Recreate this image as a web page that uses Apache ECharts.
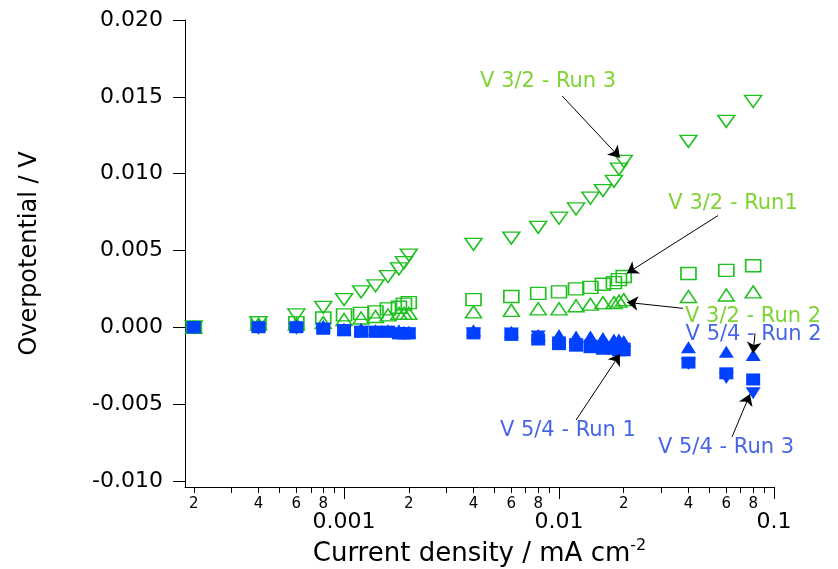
<!DOCTYPE html>
<html>
<head>
<meta charset="utf-8">
<script src="https://cdn.jsdelivr.net/npm/echarts@6/dist/echarts.min.js"></script>
<style>
  html, body { margin: 0; padding: 0; background: #fff; }
  #main { width: 838px; height: 569px; }
</style>
</head>
<body>
<div id="main"></div>
<script>
// current density, mA cm-2
var current = [2e-4, 4e-4, 6e-4, 8e-4, 1e-3, 1.2e-3, 1.4e-3, 1.6e-3, 1.8e-3, 1.9e-3, 2e-3,
    4e-3, 6e-3, 8e-3, 0.01, 0.012, 0.014, 0.016, 0.018, 0.019, 0.02, 0.04, 0.06, 0.08];

// overpotential / V
var v32run3 = [0.0000, 0.0003, 0.0008, 0.0013, 0.0018, 0.0023, 0.0027, 0.0033, 0.0038, 0.0042, 0.0047,
    0.0054, 0.0058, 0.0065, 0.0071, 0.0077, 0.0084, 0.0089, 0.0095, 0.0103, 0.0108, 0.0121, 0.0134, 0.0147];
var v32run1 = [0.0000, 0.0003, 0.0003, 0.0006, 0.0008, 0.0009, 0.0010, 0.0012, 0.0013, 0.0015, 0.0016,
    0.0018, 0.0020, 0.0022, 0.0023, 0.0025, 0.0026, 0.0028, 0.0029, 0.0031, 0.0033, 0.0035, 0.0037, 0.0040];
var v32run2 = [0.0000, 0.0002, 0.0002, 0.0003, 0.0005, 0.0006, 0.0007, 0.0008, 0.0009, 0.0009, 0.0009,
    0.0010, 0.0011, 0.0012, 0.0012, 0.0014, 0.0015, 0.0016, 0.0016, 0.0017, 0.0018, 0.0020, 0.0021, 0.0023];
var v54run1 = [0.0000, 0.0000, 0.0000, -0.0001, -0.0002, -0.0003, -0.0003, -0.0003, -0.0004, -0.0004, -0.0004,
    -0.0004, -0.0005, -0.0008, -0.0011, -0.0012, -0.0013, -0.0014, -0.0014, -0.0015, -0.0015, -0.0023, -0.0030, -0.0034];
var v54run2 = [0.0000, 0.0001, 0.0001, 0.0001, -0.0001, -0.0001, -0.0002, -0.0002, -0.0002, -0.0003, -0.0003,
    -0.0002, -0.0003, -0.0005, -0.0005, -0.0006, -0.0006, -0.0007, -0.0008, -0.0008, -0.0009, -0.0013, -0.0016, -0.0018];
var v54run3 = [0.0000, -0.0001, -0.0001, -0.0001, -0.0002, -0.0003, -0.0003, -0.0003, -0.0004, -0.0004, -0.0004,
    -0.0004, -0.0004, -0.0006, -0.0010, -0.0011, -0.0012, -0.0013, -0.0013, -0.0014, -0.0014, -0.0024, -0.0033, -0.0043];

// axis ticks
var yTicks = [-0.010, -0.005, 0.000, 0.005, 0.010, 0.015, 0.020];
var xMajorTicks = [0.001, 0.01, 0.1];
var xMajorLabels = ['0.001', '0.01', '0.1'];
var xMinorTicks = [2e-4, 3e-4, 4e-4, 5e-4, 6e-4, 7e-4, 8e-4, 9e-4,
    2e-3, 3e-3, 4e-3, 5e-3, 6e-3, 7e-3, 8e-3, 9e-3,
    2e-2, 3e-2, 4e-2, 5e-2, 6e-2, 7e-2, 8e-2, 9e-2];
var xMinorLabels = [2e-4, 4e-4, 6e-4, 8e-4, 2e-3, 4e-3, 6e-3, 8e-3, 2e-2, 4e-2, 6e-2, 8e-2];

// annotation text: label position, arrow tail, arrow head (data coords)
var noteText = ['V 3/2 - Run 3', 'V 3/2 - Run1', 'V 3/2 - Run 2', 'V 5/4 - Run 2', 'V 5/4 - Run 1', 'V 5/4 - Run 3'];
var notePos = [[0.0089, 0.0160], [0.0645, 0.00805], [0.0799, 0.00071], [0.0804, -0.00046], [0.0110, -0.00675], [0.0598, -0.00786]];
var noteTail = [[0.01033, 0.01506], [0.0549, 0.00727], [0.0377, 0.00123], [0.0816, -0.00039], [0.0120, -0.00604], [0.0638, -0.00714]];
var noteHead = [[0.0192, 0.01104], [0.0207, 0.00351], [0.0207, 0.00162], [0.0799, -0.00169], [0.0192, -0.00175], [0.0773, -0.00435]];

var GREEN = '#1fc01f';
var GREEN_TEXT = '#5fc800';
var BLUE = '#0040ff';
var BLUE_TEXT = '#1840e0';
var FONT = 'DejaVu Sans';

function pairs(ys) {
    return current.map(function (x, i) { return [x, ys[i]]; });
}

function openSeries(name, ys, symbol, rotate, size) {
    return {
        name: name, type: 'scatter', data: pairs(ys),
        symbol: symbol, symbolRotate: rotate, symbolSize: size,
        itemStyle: { color: 'rgba(0,0,0,0)', borderColor: GREEN, borderWidth: 1.5, opacity: 1 },
        silent: true
    };
}

function filledSeries(name, ys, symbol, rotate, size) {
    return {
        name: name, type: 'scatter', data: pairs(ys),
        symbol: symbol, symbolRotate: rotate, symbolSize: size,
        itemStyle: { color: BLUE, opacity: 1 },
        silent: true
    };
}

var myChart = echarts.init(document.getElementById('main'));

var xMin = 1.82e-4;

var option = {
    animation: false,
    backgroundColor: '#fff',
    grid: { left: 185, right: 64, top: 20, bottom: 82, containLabel: false, outerBoundsMode: 'none' },
    xAxis: [{
        // decades
        type: 'log', position: 'bottom', min: xMin, max: 0.1,
        axisLine: { show: true, onZero: false, lineStyle: { color: '#000', width: 1 } },
        axisTick: { show: true, inside: false, length: 12, customValues: xMajorTicks, lineStyle: { color: '#000' } },
        axisLabel: {
            customValues: xMajorTicks, margin: 24, color: '#000', fontFamily: FONT, fontSize: 22,
            formatter: function (v) {
                for (var i = 0; i < xMajorTicks.length; i++) {
                    if (Math.abs(v / xMajorTicks[i] - 1) < 1e-6) return xMajorLabels[i];
                }
                return '';
            }
        },
        splitLine: { show: false },
        minorTick: { show: false },
        name: 'Current density / mA cm{sup|-2}',
        nameLocation: 'middle', nameGap: 50,
        nameTextStyle: {
            color: '#000', fontFamily: FONT, fontSize: 26,
            rich: { sup: { fontFamily: FONT, fontSize: 16, color: '#000', padding: [0, 0, 16, 0] } }
        }
    }, {
        // minor ticks 2..9
        type: 'log', position: 'bottom', min: xMin, max: 0.1,
        axisLine: { show: false, onZero: false },
        axisTick: { show: true, inside: false, length: 6, customValues: xMinorTicks, lineStyle: { color: '#000' } },
        axisLabel: {
            customValues: xMinorLabels, margin: 10, color: '#000', fontFamily: FONT, fontSize: 15,
            formatter: function (v) {
                var p = Math.pow(10, Math.floor(Math.log10(v) + 1e-9));
                return String(Math.round(v / p));
            }
        },
        splitLine: { show: false },
        minorTick: { show: false }
    }],
    yAxis: {
        type: 'value', min: -0.0104, max: 0.020,
        axisLine: { show: true, onZero: false, lineStyle: { color: '#000', width: 1 } },
        axisTick: { show: true, inside: false, length: 12, customValues: yTicks, lineStyle: { color: '#000' } },
        axisLabel: {
            customValues: yTicks, margin: 22, color: '#000', fontFamily: FONT, fontSize: 22,
            formatter: function (v) { return v.toFixed(3); }
        },
        splitLine: { show: false },
        name: 'Overpotential / V',
        nameLocation: 'middle', nameGap: 143,
        nameTextStyle: { color: '#000', fontFamily: FONT, fontSize: 24 }
    },
    series: [
        openSeries('V 3/2 - Run 3', v32run3, 'triangle', 180, [17, 12]),
        openSeries('V 3/2 - Run1', v32run1, 'rect', 0, [15, 12]),
        openSeries('V 3/2 - Run 2', v32run2, 'triangle', 0, [16, 12]),
        filledSeries('V 5/4 - Run 1', v54run1, 'rect', 0, [14, 12]),
        filledSeries('V 5/4 - Run 2', v54run2, 'triangle', 0, [15, 12]),
        filledSeries('V 5/4 - Run 3', v54run3, 'triangle', 180, [15, 12]),
        {
            // annotations
            name: 'notes', type: 'scatter', z: 10, silent: true,
            symbol: 'rect', symbolSize: 1,
            itemStyle: { color: 'rgba(0,0,0,0)' },
            data: noteText.map(function (t, i) {
                return {
                    name: t, value: notePos[i],
                    label: { color: t.indexOf('3/2') >= 0 ? GREEN_TEXT : BLUE_TEXT }
                };
            }),
            label: {
                show: true, position: 'inside', fontFamily: FONT, fontSize: 21,
                formatter: function (p) { return p.name; }
            },
            markLine: {
                silent: true, animation: false,
                symbol: ['none', 'arrow'], symbolSize: 11,
                lineStyle: { color: '#000', width: 1, type: 'solid' },
                label: { show: false },
                data: noteText.map(function (t, i) {
                    return [{ coord: noteTail[i] }, { coord: noteHead[i] }];
                })
            }
        }
    ]
};

myChart.setOption(option);
</script>
</body>
</html>
